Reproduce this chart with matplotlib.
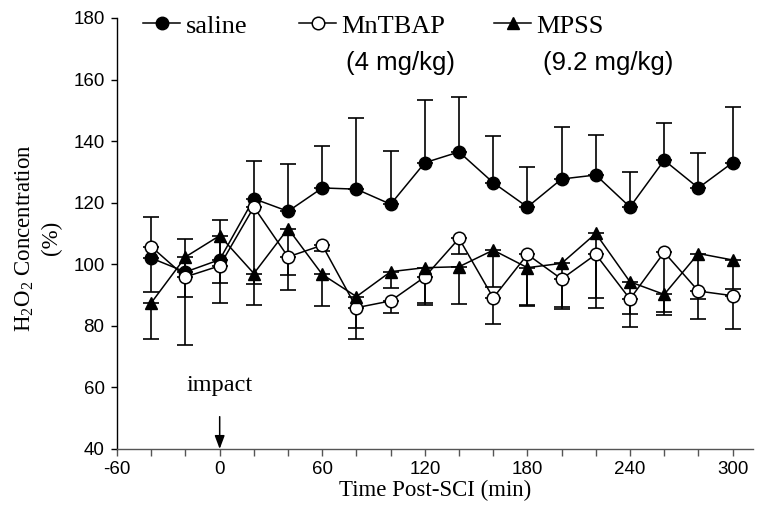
import matplotlib.pyplot as plt
from matplotlib.ticker import MultipleLocator

plt.rcParams['axes.unicode_minus'] = False
plt.rcParams['mathtext.fontset'] = 'custom'
plt.rcParams['mathtext.rm'] = 'Liberation Serif'

# Time points (min after SCI)
time = [-40, -20, 0, 20, 40, 60, 80, 100, 120, 140, 160, 180, 200, 220, 240, 260, 280, 300]

# Saline group (upper error bars)
saline = [102, 97.5, 101.5, 121.3, 117.2, 124.8, 124.4, 119.5, 133, 136.5,
          126.5, 118.6, 127.7, 129, 118.6, 133.8, 124.8, 133]
saline_err = [13.3, 10.7, 12.9, 12.2, 15.3, 13.6, 23.1, 17.3, 20.3, 17.8,
              15.1, 13.0, 16.8, 13.0, 11.4, 12.0, 11.3, 18.0]

# MnTBAP group (lower error bars)
mntbap = [105.7, 95.9, 99.5, 118.6, 102.4, 106.2, 85.9, 88.1, 95.9, 108.4,
          89.1, 103.2, 95.2, 103.2, 88.7, 103.9, 91.3, 89.8]
mntbap_err = [14.6, 22.1, 5.7, 25.1, 5.9, 2.0, 10.2, 4.0, 9.2, 5.0,
              8.6, 16.7, 9.7, 17.3, 9.0, 20.4, 9.1, 10.8]

# MPSS group (lower error bars)
mpss = [87.5, 102.4, 109.3, 97.0, 111.6, 96.7, 89.5, 97.6, 98.9, 99.2,
        104.6, 98.9, 100.3, 110.0, 94.3, 90.2, 103.5, 101.4]
mpss_err = [11.8, 12.9, 22.0, 10.2, 20.0, 10.3, 10.1, 5.2, 11.6, 12.2,
            11.9, 12.1, 14.1, 21.1, 10.6, 5.8, 14.8, 9.4]

zeros = [0] * len(time)

fig = plt.figure(figsize=(7.58, 5.07), dpi=100)
ax = fig.add_axes([0.1545, 0.1144, 0.839, 0.8501])

# Error bars first, under the markers
eb_style = dict(fmt='none', ecolor='black', elinewidth=1.2, capsize=6, capthick=1.2, zorder=1)
ax.errorbar(time, saline, yerr=[zeros, saline_err], **eb_style)
ax.errorbar(time, mntbap, yerr=[mntbap_err, zeros], **eb_style)
ax.errorbar(time, mpss, yerr=[mpss_err, zeros], **eb_style)

# Data lines with markers
l1, = ax.plot(time, saline, color='black', lw=1.1, marker='o', ms=9,
              mfc='black', mec='black', zorder=2)
l2, = ax.plot(time, mntbap, color='black', lw=1.1, marker='o', ms=9,
              mfc='white', mec='black', mew=1.1, zorder=3)
l3, = ax.plot(time, mpss, color='black', lw=1.1, marker='^', ms=9,
              mfc='black', mec='black', zorder=4)

# Axes limits and ticks
ax.set_xlim(-60, 312)
ax.set_ylim(40, 180)
ax.xaxis.set_major_locator(MultipleLocator(60))
ax.xaxis.set_minor_locator(MultipleLocator(20))
ax.yaxis.set_major_locator(MultipleLocator(20))
ax.spines['top'].set_visible(False)
ax.spines['right'].set_visible(False)
ax.spines['left'].set_linewidth(1.0)
ax.spines['bottom'].set_linewidth(1.0)
ax.spines['bottom'].set_color('#555555')
ax.tick_params(axis='x', which='both', direction='out', length=5, width=1,
               color='#555555', pad=4)
ax.tick_params(axis='y', direction='out', length=4, width=1, pad=5)
for lab in ax.get_xticklabels() + ax.get_yticklabels():
    lab.set_fontfamily('Liberation Sans')
    lab.set_fontsize(13.5)

# Axis labels
ax.set_xlabel('Time Post-SCI (min)', fontfamily='Liberation Serif', fontsize=16.5, labelpad=1)
ax.set_ylabel('H$_2$O$_2$ Concentration\n(%)', fontfamily='Liberation Serif',
              fontsize=16.5, linespacing=1.35, va='center', ha='center')
ax.yaxis.set_label_coords(-0.125, 0.49)

# Impact arrow
ax.text(0, 60.5, 'impact', fontfamily='Liberation Serif', fontsize=17.5,
        ha='center', va='center')
ax.annotate('', xy=(0, 40), xytext=(0, 50.5),
            arrowprops=dict(arrowstyle='-|>,head_length=0.8,head_width=0.3',
                            color='black', lw=1.1, shrinkA=0, shrinkB=0))

# Legend - one entry per block so spacing can follow the original
leg_font = {'family': 'Liberation Serif', 'size': 19}
for handle, label, xpos in [(l1, 'saline', 0.189), (l2, 'MnTBAP', 0.395), (l3, 'MPSS', 0.652)]:
    leg = fig.legend([handle], [label], loc='center left', bbox_to_anchor=(xpos, 0.949),
                     frameon=False, prop=leg_font, handlelength=1.4, handletextpad=0.2,
                     borderpad=0, borderaxespad=0, numpoints=1)
fig.text(0.456, 0.876, '(4 mg/kg)', fontfamily='Liberation Sans', fontsize=18.5,
         ha='left', va='center')
fig.text(0.716, 0.876, '(9.2 mg/kg)', fontfamily='Liberation Sans', fontsize=18.5,
         ha='left', va='center')

fig.savefig('out.png', dpi=100)
